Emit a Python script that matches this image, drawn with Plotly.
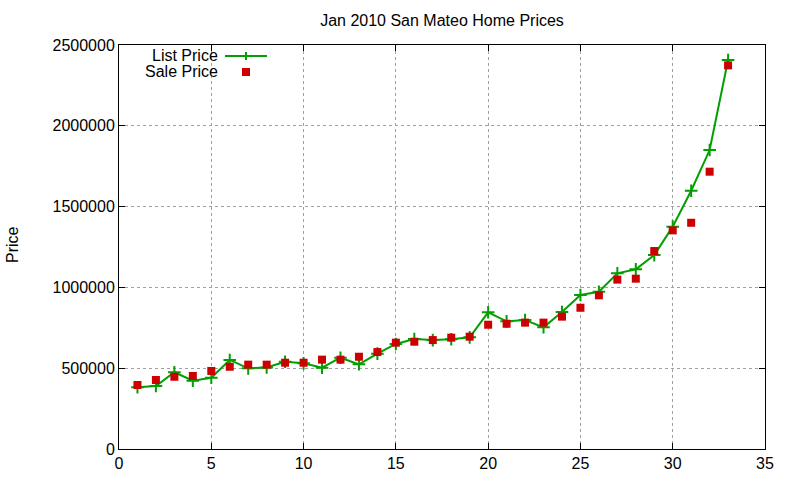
import plotly.graph_objects as go

x_vals = list(range(1, 34))
list_price = [382000, 390000, 475000, 423000, 441000, 551000, 499000, 505000, 540000, 530000,
              503000, 565000, 524000, 590000, 650000, 681000, 674000, 679000, 691000, 846000,
              790000, 798000, 753000, 848000, 953000, 973000, 1087000, 1112000, 1200000, 1376000,
              1598000, 1850000, 2407000]
sale_price = [396000, 427000, 447000, 452000, 483000, 509000, 522000, 522000, 534000, 534000,
              553000, 553000, 571000, 600000, 658000, 664000, 674000, 689000, 695000, 769000,
              775000, 782000, 782000, 819000, 874000, 951000, 1048000, 1054000, 1225000, 1353000,
              1400000, 1716000, 2374000]
x_ticks = [0, 5, 10, 15, 20, 25, 30, 35]
y_ticks = [0, 500000, 1000000, 1500000, 2000000, 2500000]

GREEN = "#00a000"
RED = "#cc0000"
FONT = "Liberation Sans, Arial, sans-serif"

# plot area at page pixels x 119..765, y 45..449 (body margin removed below)
W, H = 800, 480
L, R, T, B = 119, 35, 45, 31

fig = go.Figure()
fig.add_trace(go.Scatter(
    x=x_vals, y=list_price, mode="lines+markers", name="List Price",
    line=dict(color=GREEN, width=2),
    marker=dict(symbol="cross-thin", size=9, line=dict(color=GREEN, width=2), color=GREEN),
))
fig.add_trace(go.Scatter(
    x=x_vals, y=sale_price, mode="markers", name="Sale Price",
    marker=dict(symbol="square", size=8, color=RED),
))

axis_common = dict(
    showline=True, linecolor="black", linewidth=1, mirror="ticks",
    ticks="inside", ticklen=6, tickcolor="black",
    showgrid=True, gridcolor="#a0a0a0", griddash="dot", gridwidth=1,
    zeroline=False, automargin=False,
    tickfont=dict(family=FONT, size=16, color="black"),
)

fig.update_layout(
    width=W, height=H,
    paper_bgcolor="white", plot_bgcolor="white",
    margin=dict(l=L, r=R, t=T, b=B),
    showlegend=False,
    title=dict(text="Jan 2010 San Mateo Home Prices", x=(119 + 765) / 2 / W,
               xanchor="center", y=1 - 20 / H, yanchor="middle",
               font=dict(family=FONT, size=16, color="black")),
    font=dict(family=FONT, size=16, color="black"),
    xaxis=dict(range=[0, 35], tickvals=x_ticks, ticktext=[str(v) for v in x_ticks], **axis_common),
    yaxis=dict(range=[0, 2500000], tickvals=y_ticks, ticktext=[str(v) for v in y_ticks], **axis_common),
)

# pixel -> paper coordinates
px = lambda p: (p - 119) / (765 - 119)
py = lambda p: (449 - p) / (449 - 45)

# y-axis title
fig.add_annotation(text="Price", xref="paper", yref="paper", x=px(12), y=py(245),
                   xanchor="center", yanchor="middle", textangle=-90, showarrow=False,
                   font=dict(family=FONT, size=16, color="black"))

# Gnuplot-style legend (text then sample), top-left inside plot
fig.add_annotation(text="List Price", xref="paper", yref="paper", x=px(219), y=py(55),
                   xanchor="right", yanchor="middle", showarrow=False, borderpad=0,
                   font=dict(family=FONT, size=16, color="black"))
fig.add_annotation(text="Sale Price", xref="paper", yref="paper", x=px(219), y=py(72),
                   xanchor="right", yanchor="middle", showarrow=False, borderpad=0,
                   font=dict(family=FONT, size=16, color="black"))
fig.add_shape(type="line", xref="paper", yref="paper", x0=px(225), x1=px(267), y0=py(56), y1=py(56),
              line=dict(color=GREEN, width=2))
fig.add_shape(type="line", xref="paper", yref="paper", x0=px(246), x1=px(246), y0=py(52), y1=py(60),
              line=dict(color=GREEN, width=2))
fig.add_shape(type="rect", xref="paper", yref="paper", x0=px(242), x1=px(250), y0=py(68), y1=py(76),
              line=dict(width=0), fillcolor=RED)

fig.write_html("out.html", config={"displayModeBar": False},
               post_script="document.body.style.margin='0px';")
